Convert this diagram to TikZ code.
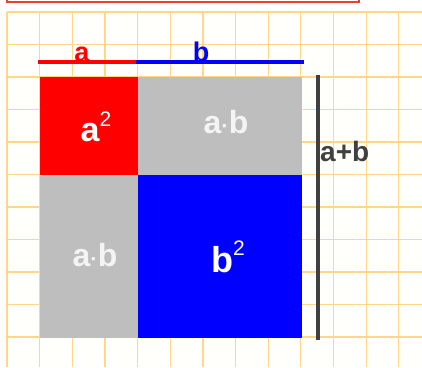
\documentclass[tikz,border=0pt]{standalone}
\usepackage{fontspec}
\setmainfont{Liberation Sans}
\definecolor{gridc}{HTML}{FFD68A}
\definecolor{sqgray}{HTML}{BEBEBE}
\definecolor{txtw}{HTML}{F4F4F4}
\definecolor{barc}{HTML}{404040}
\definecolor{boxr}{HTML}{F04020}
\begin{document}
\begin{tikzpicture}[x=1pt,y=-1pt,
  sq/.style={anchor=north west,inner sep=0pt,outer sep=0pt,draw=none},
  lbl/.style={anchor=base,inner sep=0pt,font=\bfseries},
  seg/.style={line width=4pt}]
\useasboundingbox (0,0) rectangle (422,367);
\fill[white] (0,0) rectangle (422,367);
% grid
\fill[white!99!yellow] (7,12) rectangle (422,367);
\foreach \i in {0,...,13} {\draw[gridc,line width=1.2pt] (7+32.65*\i,12) -- (7+32.65*\i,367);}
\foreach \j in {0,...,11} {\draw[gridc,line width=1.2pt] (7,12+32.5*\j) -- (422,12+32.5*\j);}
% top cut box
\draw[boxr,line width=1.5pt] (7,-5) -- (7,2) -- (359,2) -- (359,-5);
% squares
\node[sq,fill=red,minimum width=98pt,minimum height=98pt] (sa) at (40,77) {};
\node[sq,fill=sqgray,minimum width=164pt,minimum height=98pt] (sab1) at (138,77) {};
\node[sq,fill=sqgray,minimum width=98pt,minimum height=163pt] (sab2) at (40,175) {};
\node[sq,fill=blue,minimum width=164pt,minimum height=163pt] (sb) at (138,175) {};
% labels in squares
\node[lbl,text=white] (ta) at (96,141) {\fontsize{34}{34}\selectfont a\raisebox{15pt}{\fontsize{21}{21}\mdseries\selectfont 2}};
\node[lbl,text=white] (tb) at (228,272) {\fontsize{36}{36}\selectfont b\raisebox{17pt}{\fontsize{21}{21}\mdseries\selectfont 2}};
\node[lbl,text=txtw] (tab1) at (226,133) {\fontsize{32}{32}\selectfont a{\fontsize{22}{22}\selectfont ·}b};
\node[lbl,text=txtw] (tab2) at (95,266) {\fontsize{32}{32}\selectfont a{\fontsize{22}{22}\selectfont ·}b};
% top segments
\coordinate (l0) at (38,62);
\coordinate (l1) at (136,62);
\coordinate (l2) at (304,62);
\draw[seg,red] (l0) -- (l1);
\draw[seg,blue] (l1) -- (l2);
\node[lbl,text=red] (la) at (82,61) {\fontsize{27}{27}\selectfont a};
\node[lbl,text=blue] (lb) at (201,61) {\fontsize{27}{27}\selectfont b};
% vertical bar
\coordinate (v0) at (318,75);
\coordinate (v1) at (318,340);
\draw[line width=4.3pt,barc] (v0) -- (v1);
\node[anchor=base west,inner sep=0pt,font=\bfseries,text=barc] (lab) at (320,161) {\fontsize{28}{28}\selectfont a+b};
\end{tikzpicture}
\end{document}
